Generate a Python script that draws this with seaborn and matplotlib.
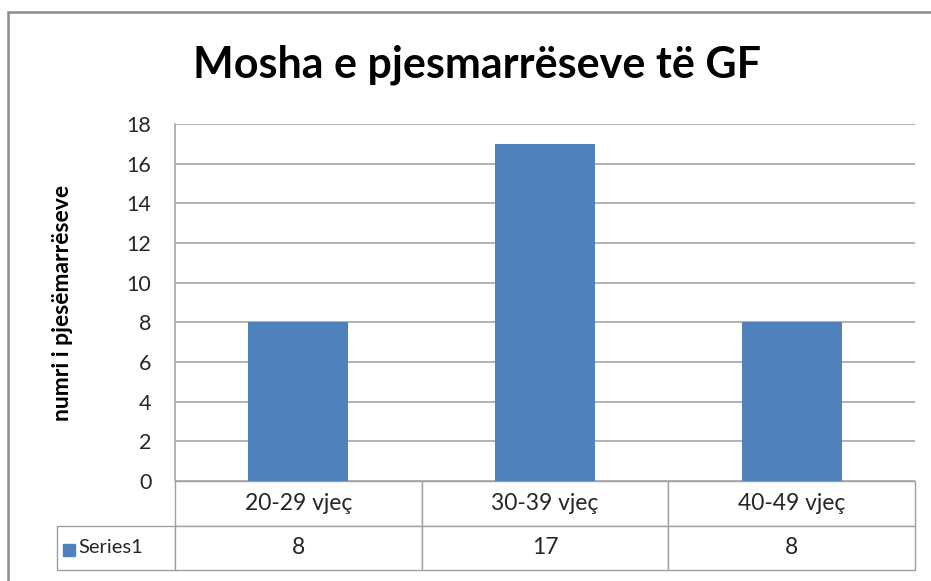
import matplotlib
matplotlib.use("Agg")
import matplotlib.pyplot as plt
from matplotlib.patches import Rectangle
import seaborn as sns
import pandas as pd

# data
categories = ["20-29 vjeç", "30-39 vjeç", "40-49 vjeç"]
values = [8, 17, 8]
series_name = "Series1"
y_ticks = [0, 2, 4, 6, 8, 10, 12, 14, 16, 18]

title = "Mosha e pjesmarrëseve të GF"
y_label = "numri i pjesëmarrëseve"

bar_color = "#4F81BD"
grid_color = "#A6A6A6"
table_color = "#A0A0A0"

sns.set_theme(style="white")
plt.rcParams["font.family"] = ["Lato", "DejaVu Sans"]

W, H = 931, 581
fig = plt.figure(figsize=(W / 100, H / 100), dpi=100)


def px_box(x0, y0, x1, y1):
    # pixel box (top-left origin) -> figure fraction [l, b, w, h]
    return [x0 / W, 1 - y1 / H, (x1 - x0) / W, (y1 - y0) / H]


# outer chart frame (only top/left show inside the crop)
fig.add_artist(Rectangle((8 / W, -0.1), 1.2, 1 - 12 / H + 0.1, transform=fig.transFigure,
                         fill=False, edgecolor="#8C8C8C", lw=1.8))

ax = fig.add_axes(px_box(175, 124, 915, 481))

df = pd.DataFrame({"age": categories, "count": values})
sns.barplot(data=df, x="age", y="count", color=bar_color, saturation=1,
            width=0.405, linewidth=0, ax=ax)

ax.set_ylim(0, 18)
ax.set_yticks(y_ticks)
ax.set_yticklabels([str(t) for t in y_ticks], fontsize=15.5, color="#262626")
ax.tick_params(axis="y", length=0, pad=17)
ax.set_xticks([])
ax.set_xlabel("")
ax.set_ylabel(y_label, fontsize=16.5, fontweight="bold", color="black")
ax.yaxis.set_label_coords(-0.138, 0.5)
ax.yaxis.grid(True, color=grid_color, lw=1.2)
ax.set_axisbelow(True)
for s in ["top", "right", "bottom"]:
    ax.spines[s].set_visible(False)
ax.spines["left"].set_color(grid_color)
ax.spines["left"].set_linewidth(1.2)

# data table underneath, first column holds the legend key
lab_w = 118 / 740
tbl_h = 89 / 357
tbl = ax.table(cellText=[[series_name] + [str(v) for v in values]],
               colLabels=[""] + categories,
               colWidths=[lab_w] + [1 / 3] * 3,
               cellLoc="center",
               bbox=[-lab_w, -tbl_h, 1 + lab_w, tbl_h])
tbl.auto_set_font_size(False)
tbl.set_fontsize(16.5)
for (r, c), cell in tbl.get_celld().items():
    cell.set_edgecolor(table_color)
    cell.set_linewidth(1.0)
    cell.get_text().set_color("#262626")
tbl[0, 0].set_visible(False)
key = tbl[1, 0]
key.get_text().set_ha("left")
key.PAD = 0.18
key.get_text().set_fontsize(14.5)

fig.add_artist(Rectangle((63 / W, 1 - 556 / H), 12 / W, 12 / H,
                         transform=fig.transFigure, color=bar_color))

fig.text(477 / W, 1 - 65 / H, title, ha="center", va="center",
         fontsize=31, fontweight="bold", color="black")

fig.savefig("out.png", dpi=100)
